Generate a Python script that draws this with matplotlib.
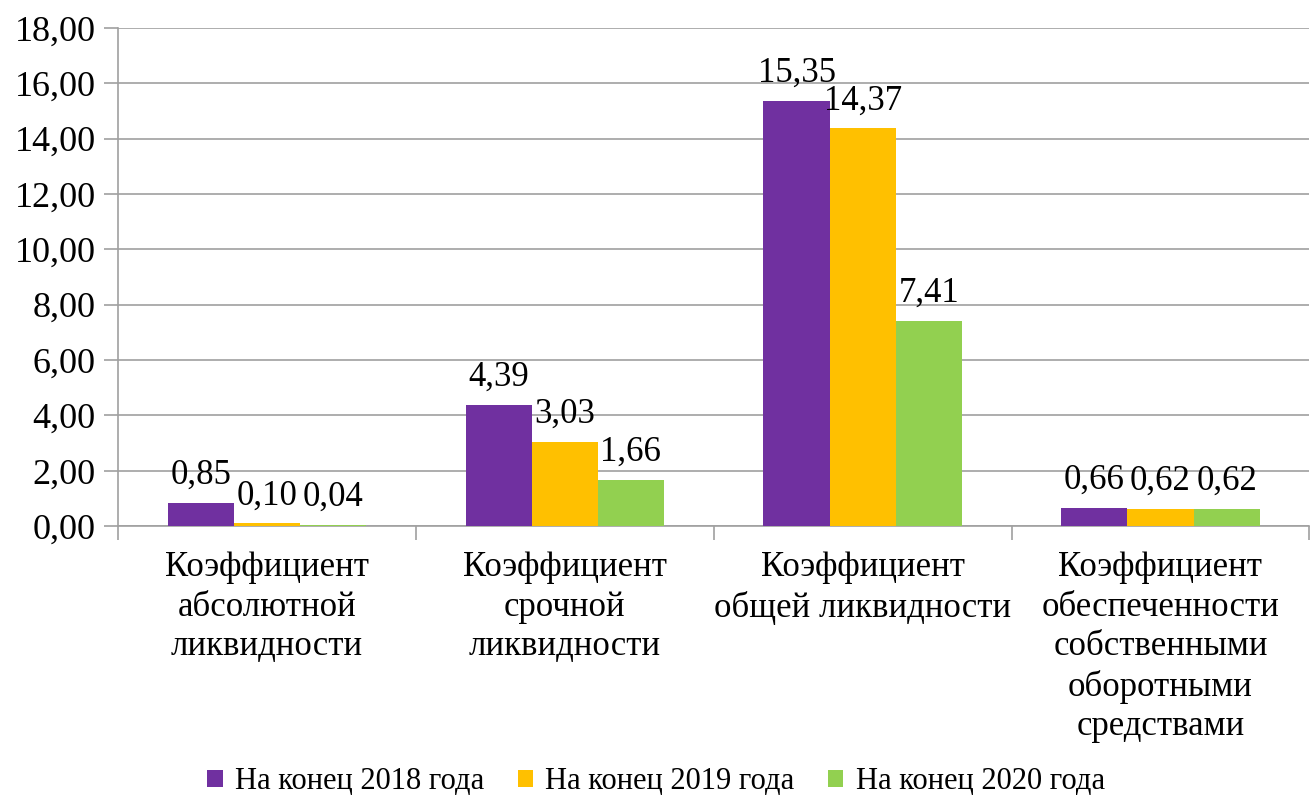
import matplotlib.pyplot as plt
import numpy as np

categories = [
    "Коэффициент\nабсолютной\nликвидности",
    "Коэффициент\nсрочной\nликвидности",
    "Коэффициент\nобщей ликвидности",
    "Коэффициент\nобеспеченности\nсобственными\nоборотными\nсредствами",
]
series_names = ["На конец 2018 года", "На конец 2019 года", "На конец 2020 года"]
values_2018 = [0.85, 4.39, 15.35, 0.66]
values_2019 = [0.10, 3.03, 14.37, 0.62]
values_2020 = [0.04, 1.66, 7.41, 0.62]

colors = ["#7030A0", "#FFC000", "#92D050"]

plt.rcParams["font.family"] = ["Liberation Serif", "DejaVu Serif"]

fig = plt.figure(figsize=(13.12, 7.96), dpi=100)
ax = fig.add_axes([0.09, 0.339, 0.908, 0.626])

x = np.arange(len(categories))
w = 0.222
for i, (vals, name) in enumerate(zip([values_2018, values_2019, values_2020], series_names)):
    pos = x + (i - 1) * w
    bars = ax.bar(pos, vals, width=w, color=colors[i], label=name, zorder=3)
    for b, v in zip(bars, vals):
        ax.annotate(f"{v:.2f}".replace(".", ","), (b.get_x() + b.get_width() / 2, v),
                    xytext=(0, 8), textcoords="offset points",
                    ha="center", va="bottom", fontsize=25, zorder=4)

ax.set_xlim(-0.5, len(categories) - 0.5)
ax.set_ylim(0, 18)
ax.set_yticks(np.arange(0, 18.1, 2))
ax.set_yticklabels([f"{t:.2f}".replace(".", ",") for t in np.arange(0, 18.1, 2)])
ax.yaxis.grid(True, color="#A0A0A0", linewidth=1.2, zorder=0)

ax.set_xticks(x)
ax.set_xticklabels(categories, fontsize=25, va="top", linespacing=1.26)
ax.tick_params(axis="x", length=0, pad=18)
ax.set_xticks(np.arange(-0.5, len(categories)), minor=True)
ax.tick_params(axis="x", which="minor", length=10, color="#A0A0A0", width=1.2)
ax.tick_params(axis="y", labelsize=26, length=10, color="#A0A0A0", width=1.2, pad=6)

for s in ["top", "right"]:
    ax.spines[s].set_visible(False)
for s in ["left", "bottom"]:
    ax.spines[s].set_color("#A0A0A0")
    ax.spines[s].set_linewidth(1.2)

fig.legend(loc="lower center", bbox_to_anchor=(0.5, -0.035), ncol=3, fontsize=22,
           frameon=False, handlelength=0.5, handleheight=0.5, handletextpad=0.4,
           columnspacing=1.1)

fig.savefig("out.png", dpi=100)
